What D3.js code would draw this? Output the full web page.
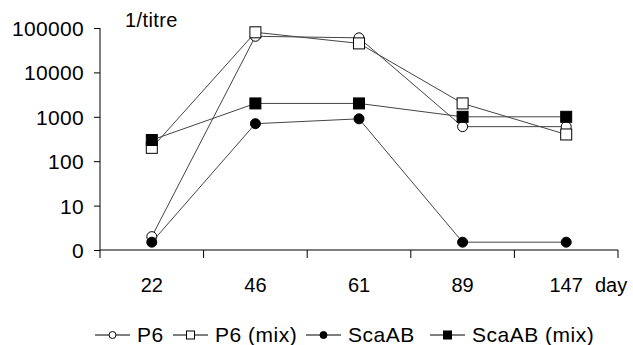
<!DOCTYPE html>
<html>
<head>
<meta charset="utf-8">
<script src="https://cdn.jsdelivr.net/npm/d3@7"></script>
<style>
  body { margin: 0; background: #fff; }
  text { font-family: "Liberation Sans", Arial, sans-serif; fill: #000; }
</style>
</head>
<body>
<svg id="chart" width="633" height="345"></svg>
<script>
const days = ['22', '46', '61', '89', '147'];
const yTicks = [1, 10, 100, 1000, 10000, 100000];
const yTickLabels = ['0', '10', '100', '1000', '10000', '100000'];

const p6 = [2, 65000, 60000, 600, 600];
const p6Mix = [200, 80000, 45000, 2000, 400];
const scaAB = [1.5, 700, 900, 1.5, 1.5];
const scaABMix = [300, 2000, 2000, 1000, 1000];

const series = [
    { name: 'P6', values: p6, shape: 'circle', fill: '#fff' },
    { name: 'P6 (mix)', values: p6Mix, shape: 'square', fill: '#fff' },
    { name: 'ScaAB', values: scaAB, shape: 'circle', fill: '#000' },
    { name: 'ScaAB (mix)', values: scaABMix, shape: 'square', fill: '#000' }
];

const svg = d3.select('#chart');

const x = d3.scaleBand().domain(days).range([100, 618]);
const y = d3.scaleLog().domain([1, 100000]).range([250, 28]);

// y axis
const yAxis = svg.append('g')
    .attr('transform', 'translate(100,0)')
    .call(d3.axisLeft(y).tickValues(yTicks).tickSize(6).tickPadding(10)
        .tickFormat((d, i) => yTickLabels[i]));
yAxis.select('.domain').attr('stroke', '#000').attr('d', 'M0,28V250');
yAxis.selectAll('.tick line').attr('stroke', '#000');
yAxis.selectAll('.tick text')
    .style('font-size', '21px')
    .style('letter-spacing', '0.3px')
    .attr('dy', '0.36em');

// x axis: ticks at band boundaries
svg.append('line')
    .attr('x1', x.range()[0]).attr('x2', x.range()[1])
    .attr('y1', y(1)).attr('y2', y(1))
    .attr('stroke', '#000');
const bounds = days.map(d => x(d)).concat([x.range()[1]]);
svg.selectAll('.xtick')
    .data(bounds)
    .enter()
    .append('line')
    .attr('x1', d => d).attr('x2', d => d)
    .attr('y1', y(1)).attr('y2', y(1) + 8)
    .attr('stroke', '#000');
svg.selectAll('.xlabel')
    .data(days)
    .enter()
    .append('text')
    .attr('x', d => x(d) + x.bandwidth() / 2)
    .attr('y', 292)
    .attr('text-anchor', 'middle')
    .style('font-size', '20px')
    .text(d => d);

svg.append('text')
    .attr('x', 595).attr('y', 292)
    .style('font-size', '20px')
    .text('day');

svg.append('text')
    .attr('x', 125).attr('y', 27)
    .style('font-size', '20px')
    .style('letter-spacing', '0.4px')
    .text('1/titre');

// lines and markers
const line = d3.line()
    .x((d, i) => x(days[i]) + x.bandwidth() / 2)
    .y(d => y(d));

function drawMarker(g, shape, fill, size) {
    if (shape === 'circle') {
        g.append('circle').attr('r', size / 2)
            .attr('fill', fill).attr('stroke', '#000').attr('stroke-width', 1);
    } else {
        g.append('rect').attr('x', -size / 2).attr('y', -size / 2)
            .attr('width', size).attr('height', size)
            .attr('fill', fill).attr('stroke', '#000').attr('stroke-width', 1);
    }
}

series.forEach(s => {
    svg.append('path')
        .datum(s.values)
        .attr('d', line)
        .attr('fill', 'none')
        .attr('stroke', '#444')
        .attr('stroke-width', 1);
    s.values.forEach((v, i) => {
        const g = svg.append('g')
            .attr('transform', `translate(${x(days[i]) + x.bandwidth() / 2},${y(v)})`);
        drawMarker(g, s.shape, s.fill, s.shape === 'circle' ? 10 : 11);
    });
});

// legend
const legendX = [95, 173, 306, 430];
series.forEach((s, i) => {
    const g = svg.append('g').attr('transform', `translate(${legendX[i]},335)`);
    g.append('line').attr('x1', 0).attr('x2', 35).attr('y1', 0).attr('y2', 0)
        .attr('stroke', '#000');
    const m = g.append('g').attr('transform', 'translate(17.5,0)');
    drawMarker(m, s.shape, s.fill, s.shape === 'circle' ? 7 : 8);
    g.append('text')
        .attr('x', 42).attr('y', 7)
        .style('font-size', '21px')
        .style('letter-spacing', '0.5px')
        .text(s.name);
});
</script>
</body>
</html>
